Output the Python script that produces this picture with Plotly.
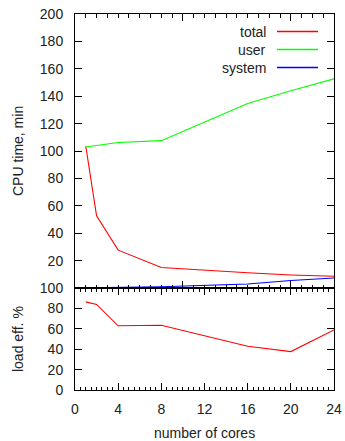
import plotly.graph_objects as go

cores = [1, 2, 4, 8, 16, 20, 24]
total = [103.5, 52.8, 27.7, 15.0, 11.2, 9.6, 8.6]
user = [102.9, 104.0, 106.2, 107.6, 134.7, 144.0, 152.7]
system = [0.3, 0.4, 0.6, 1.0, 3.0, 5.5, 7.4]
load_eff = [86.5, 84.0, 63.0, 63.6, 43.0, 37.7, 58.9]

cpu_ticks = [20, 40, 60, 80, 100, 120, 140, 160, 180, 200]
eff_ticks = [0, 20, 40, 60, 80, 100]
core_ticks = [0, 4, 8, 12, 16, 20, 24]

legend_names = ["total", "user", "system"]
legend_colors = ["#ff0000", "#00ff00", "#0000ff"]

FONT = "Liberation Sans, Arial, sans-serif"

fig = go.Figure()
fig.add_trace(go.Scatter(x=cores, y=total, mode="lines", line=dict(color="#ff0000", width=1.1),
                         xaxis="x", yaxis="y", name="total"))
fig.add_trace(go.Scatter(x=cores, y=user, mode="lines", line=dict(color="#00ff00", width=1.1),
                         xaxis="x", yaxis="y", name="user"))
fig.add_trace(go.Scatter(x=cores, y=system, mode="lines", line=dict(color="#0000ff", width=1.1),
                         xaxis="x", yaxis="y", name="system"))
fig.add_trace(go.Scatter(x=cores, y=load_eff, mode="lines", line=dict(color="#ff0000", width=1.1),
                         xaxis="x2", yaxis="y2", name="load eff."))

split = 0.271
PLOT_H = 376
axcommon = dict(showline=True, linecolor="black", linewidth=1, mirror="ticks",
                ticks="inside", tickcolor="black", showgrid=False, zeroline=False,
                automargin=False,
                tickfont=dict(family=FONT, size=14, color="#222"))

fig.update_layout(
    width=345, height=441,
    margin=dict(l=75, r=11, t=14, b=51, autoexpand=False),
    paper_bgcolor="white", plot_bgcolor="white",
    showlegend=False,
    font=dict(family=FONT, size=14, color="#222"),
    xaxis=dict(domain=[0, 1], range=[0, 24], anchor="y", dtick=10, tick0=0,
               showticklabels=False, ticklen=7,
               minor=dict(dtick=1, ticklen=3.5, ticks="inside", tickcolor="black"),
               **axcommon),
    yaxis=dict(domain=[split, 1], range=[0, 200], tickvals=cpu_ticks, anchor="x", ticklen=7,
               ticklabelstandoff=8, **axcommon),
    xaxis2=dict(domain=[0, 1], range=[0, 24], anchor="y2", tickvals=core_ticks,
                ticklen=7, ticklabelstandoff=6,
                minor=dict(dtick=0.5, ticklen=3.5, ticks="inside", tickcolor="black"),
                **axcommon),
    yaxis2=dict(domain=[0, split], range=[0, 100], tickvals=eff_ticks, anchor="x2", ticklen=7,
                ticklabelstandoff=8, **axcommon),
)

# axis titles
fig.add_annotation(text="CPU time, min", xref="paper", yref="paper", x=0, y=(1 + split) / 2,
                   xanchor="center", yanchor="middle",
                   xshift=-57, textangle=-90, showarrow=False, font=dict(size=14))
fig.add_annotation(text="load eff. %", xref="paper", yref="paper", x=0, y=split / 2,
                   xanchor="center", yanchor="middle",
                   xshift=-57, textangle=-90, showarrow=False, font=dict(size=14))
fig.add_annotation(text="number of cores", xref="paper", yref="paper", x=0.5, y=0,
                   xanchor="center", yanchor="middle", borderpad=0,
                   yshift=-43, showarrow=False, font=dict(size=14))

# legend (text on the left, sample line on the right)
for i, (name, col) in enumerate(zip(legend_names, legend_colors)):
    yp = 1 - (17.5 + 18 * i) / PLOT_H
    fig.add_annotation(text=name, xref="paper", yref="paper", x=(268 - 75) / 259, y=yp,
                       xanchor="right", yanchor="middle", showarrow=False,
                       font=dict(size=14))
    fig.add_shape(type="line", xref="paper", yref="paper",
                  x0=(277 - 75) / 259, x1=(318 - 75) / 259, y0=yp, y1=yp,
                  line=dict(color=col, width=1.3))

fig.write_html("out.html", config={"displayModeBar": False},
               post_script="document.body.style.margin='0px';document.body.style.overflow='hidden';")
